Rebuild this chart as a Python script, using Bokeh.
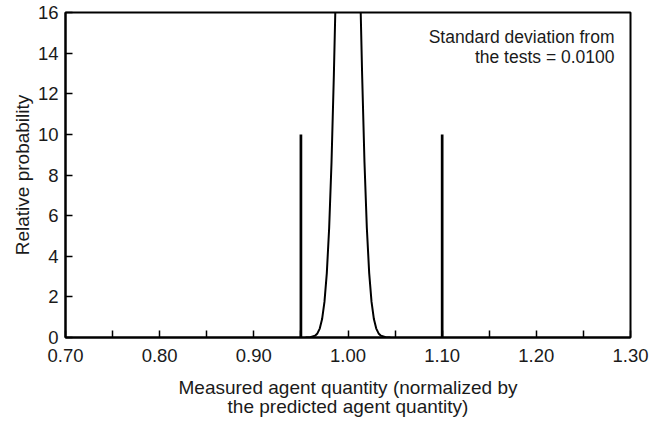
from bokeh.plotting import figure
from bokeh.models import FixedTicker, Range1d, Label, ColumnDataSource
from bokeh.embed import file_html
from bokeh.resources import INLINE

# ---- data ----
left_x = [0.955, 0.960, 0.965, 0.9675, 0.970, 0.9725, 0.975, 0.9775, 0.980, 0.9825, 0.985, 0.9865]
left_y = [0.0, 0.01, 0.09, 0.20, 0.44, 0.91, 1.75, 3.17, 5.40, 8.63, 12.95, 16.0]
right_x = [1.0135, 1.015, 1.0175, 1.020, 1.0225, 1.025, 1.0275, 1.030, 1.0325, 1.035, 1.040, 1.045]
right_y = [16.0, 12.95, 8.63, 5.40, 3.17, 1.75, 0.91, 0.44, 0.20, 0.09, 0.01, 0.0]
limit_x = [0.95, 1.10]
limit_height = [10, 10]
x_ticks = [0.70, 0.80, 0.90, 1.00, 1.10, 1.20, 1.30]
x_minor = [0.75, 0.85, 0.95, 1.05, 1.15, 1.25]
y_ticks = [0, 2, 4, 6, 8, 10, 12, 14, 16]
note_lines = ["Standard deviation from", "the tests = 0.0100"]

FONT = "Liberation Sans"
TXT = "#1a1a1a"

p = figure(width=651, height=422, output_backend="svg", toolbar_location=None,
           x_range=Range1d(0.70, 1.30), y_range=Range1d(0, 16),
           min_border_left=65, min_border_right=21, min_border_top=12, min_border_bottom=85)
p.background_fill_color = "white"
p.border_fill_color = "white"
p.outline_line_color = "black"
p.outline_line_width = 2
p.outline_line_alpha = 1
p.xgrid.visible = False
p.ygrid.visible = False

# curve
p.line(left_x, left_y, line_color="black", line_width=2)
p.line(right_x, right_y, line_color="black", line_width=2)
# limit lines
src = ColumnDataSource(dict(x=limit_x, y0=[0] * len(limit_x), y1=limit_height))
p.segment(x0="x", y0="y0", x1="x", y1="y1", source=src, line_color="black", line_width=2.7)

# axes
xa = p.xaxis[0]
xa.ticker = FixedTicker(ticks=x_ticks, minor_ticks=x_minor)
xa.major_label_overrides = {t: f"{t:.2f}" for t in x_ticks}
ya = p.yaxis[0]
ya.ticker = FixedTicker(ticks=y_ticks, minor_ticks=[])

for ax in (xa, ya):
    ax.axis_line_color = "black"
    ax.axis_line_width = 2
    ax.major_tick_in = 7
    ax.major_tick_out = 0
    ax.minor_tick_in = 7
    ax.minor_tick_out = 0
    ax.major_tick_line_color = "black"
    ax.minor_tick_line_color = "black"
    ax.major_tick_line_width = 1.5
    ax.minor_tick_line_width = 1.5
    ax.major_label_text_font = FONT
    ax.major_label_text_font_size = "18.5px"
    ax.major_label_text_color = TXT
    ax.axis_label_text_font = FONT
    ax.axis_label_text_font_size = "19px"
    ax.axis_label_text_font_style = "normal"
    ax.axis_label_text_color = TXT

xa.major_label_standoff = 11
xa.axis_label = "Measured agent quantity (normalized by\nthe predicted agent quantity)"
xa.axis_label_text_line_height = 0.95
xa.axis_label_standoff = 12
ya.major_label_standoff = 7
ya.minor_tick_in = 0
ya.axis_label = "Relative probability"
ya.axis_label_standoff = 2

for i, t in enumerate(note_lines):
    p.add_layout(Label(x=549, y=311 - 20 * i, x_units="screen", y_units="screen", text=t,
                       text_align="right", text_baseline="top", text_font=FONT,
                       text_font_size="17.5px", text_color=TXT))

open("out.html", "w").write(file_html(p, INLINE))
